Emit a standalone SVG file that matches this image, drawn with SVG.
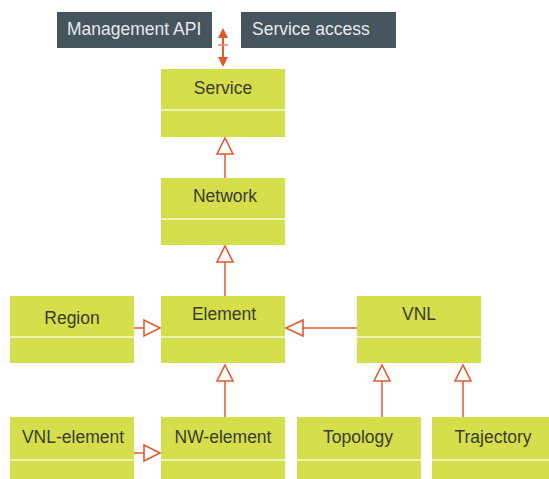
<svg xmlns="http://www.w3.org/2000/svg" width="549" height="479" viewBox="0 0 549 479">
  <style>
    .cls { fill: #d4df4b; }
    .div { stroke: #eef2b4; stroke-width: 2; }
    .lbl { font-family: "Liberation Sans", Arial, sans-serif; font-size: 17.5px; fill: #3b3b2e; text-anchor: middle; }
    .api { fill: #46545e; }
    .apit { font-family: "Liberation Sans", Arial, sans-serif; font-size: 17.5px; fill: #e6eaec; }
    .link { stroke: #ec8264; stroke-width: 2; fill: none; }
    .tri { fill: #ffffff; stroke: #e4582e; stroke-width: 1.6; stroke-linejoin: miter; }
  </style>
  <defs>
    <marker id="head" viewBox="0 0 10 10" refX="10" refY="5" markerWidth="10" markerHeight="10" markerUnits="userSpaceOnUse" orient="auto">
      <path d="M0,0 L10,5 L0,10 Z" fill="#e4582e"/>
    </marker>
  </defs>

  <!-- access interfaces -->
  <g id="management-api">
    <rect class="api" x="57" y="12" width="155" height="36"/>
    <text class="apit" x="67" y="35">Management API</text>
  </g>
  <g id="service-access">
    <rect class="api" x="241" y="12" width="155" height="36"/>
    <text class="apit" x="252" y="35">Service access</text>
  </g>

  <!-- classes -->
  <g id="service">
    <rect class="cls" x="161" y="69" width="124" height="68"/>
    <line class="div" x1="161" y1="110" x2="285" y2="110"/>
    <text class="lbl" x="223" y="94">Service</text>
  </g>
  <g id="network">
    <rect class="cls" x="161" y="178" width="124" height="67"/>
    <line class="div" x1="161" y1="219" x2="285" y2="219"/>
    <text class="lbl" x="225" y="202">Network</text>
  </g>
  <g id="region">
    <rect class="cls" x="10" y="296" width="124" height="67"/>
    <line class="div" x1="10" y1="337" x2="134" y2="337"/>
    <text class="lbl" x="72" y="324">Region</text>
  </g>
  <g id="element">
    <rect class="cls" x="161" y="296" width="124" height="67"/>
    <line class="div" x1="161" y1="337" x2="285" y2="337"/>
    <text class="lbl" x="224" y="320">Element</text>
  </g>
  <g id="vnl">
    <rect class="cls" x="357" y="296" width="124" height="67"/>
    <line class="div" x1="357" y1="337" x2="481" y2="337"/>
    <text class="lbl" x="419" y="320">VNL</text>
  </g>
  <g id="vnl-element">
    <rect class="cls" x="10" y="417" width="124" height="67"/>
    <line class="div" x1="10" y1="460" x2="134" y2="460"/>
    <text class="lbl" x="73" y="443">VNL-element</text>
  </g>
  <g id="nw-element">
    <rect class="cls" x="161" y="417" width="124" height="67"/>
    <line class="div" x1="161" y1="460" x2="285" y2="460"/>
    <text class="lbl" x="223" y="443">NW-element</text>
  </g>
  <g id="topology">
    <rect class="cls" x="297" y="417" width="124" height="67"/>
    <line class="div" x1="297" y1="460" x2="421" y2="460"/>
    <text class="lbl" x="358" y="443">Topology</text>
  </g>
  <g id="trajectory">
    <rect class="cls" x="432" y="417" width="124" height="67"/>
    <line class="div" x1="432" y1="460" x2="556" y2="460"/>
    <text class="lbl" x="493" y="443">Trajectory</text>
  </g>

  <!-- connectors -->
  <g id="connectors">
    <!-- bidirectional access link -->
    <line x1="223" y1="36" x2="223" y2="59" stroke="#e4582e" stroke-width="2"/>
    <path d="M223,28 L228,38 L218,38 Z" fill="#e4582e"/>
    <path d="M223,67 L228,57 L218,57 Z" fill="#e4582e"/>
    <line x1="218" y1="45" x2="228" y2="45" stroke="#ec8264" stroke-width="1.5"/>

    <!-- generalisations -->
    <line class="link" x1="225" y1="178" x2="225" y2="154"/>
    <path class="tri" d="M225,138 L233,154 L217,154 Z"/>

    <line class="link" x1="225" y1="296" x2="225" y2="262"/>
    <path class="tri" d="M225,246 L233,262 L217,262 Z"/>

    <line class="link" x1="134" y1="328" x2="144" y2="328"/>
    <path class="tri" d="M160,328 L144,320 L144,336 Z"/>

    <line class="link" x1="357" y1="328" x2="303" y2="328"/>
    <path class="tri" d="M286,328 L303,320 L303,336 Z"/>

    <line class="link" x1="225" y1="417" x2="225" y2="381"/>
    <path class="tri" d="M225,365 L233,381 L217,381 Z"/>

    <line class="link" x1="382" y1="417" x2="382" y2="381"/>
    <path class="tri" d="M382,365 L390,381 L374,381 Z"/>

    <line class="link" x1="463" y1="417" x2="463" y2="381"/>
    <path class="tri" d="M463,365 L471,381 L455,381 Z"/>

    <line class="link" x1="134" y1="453" x2="144" y2="453"/>
    <path class="tri" d="M160,453 L144,445 L144,461 Z"/>
  </g>
</svg>
